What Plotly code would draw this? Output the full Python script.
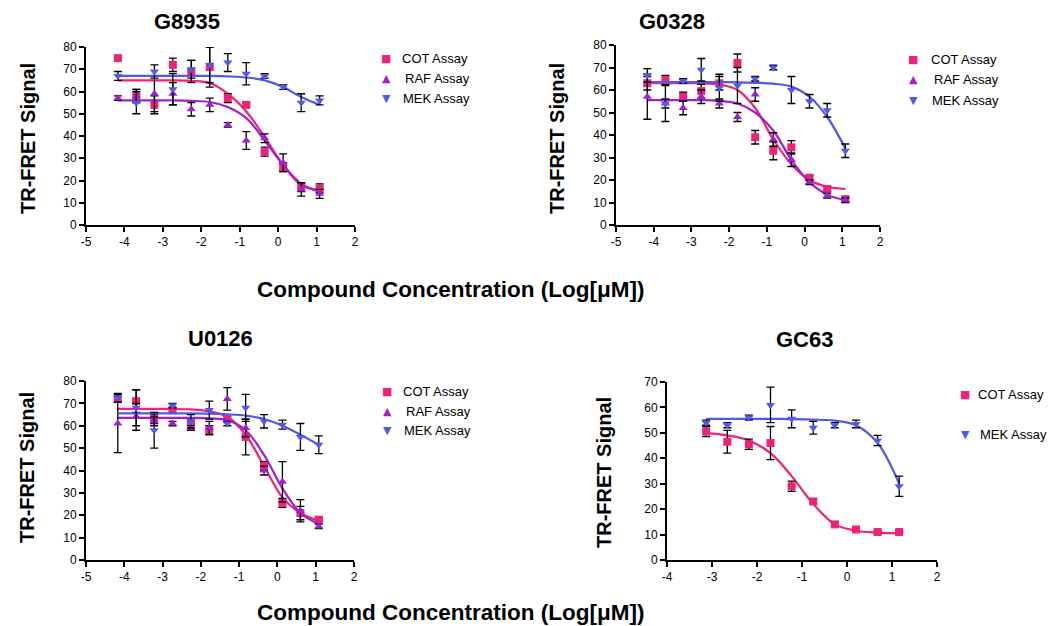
import plotly.graph_objects as go

W, H = 1055, 626
PAGE_OFFSET = 8  # default body margin of the html page

# ---------------- data ----------------
x12 = [-4.17, -3.69, -3.22, -2.74, -2.26, -1.78, -1.31, -0.83, -0.35, 0.13, 0.60, 1.08]
x10 = [-3.13, -2.66, -2.18, -1.70, -1.23, -0.75, -0.27, 0.20, 0.68, 1.16]

# G8935
g8935_cot = [75, 58, 54, 72, 69, 71, 57, 54, 33, 26, 17, 16.5]
g8935_cot_err = [0, 3, 4, 3, 5, 9, 2, 1, 2, 2, 2, 2]
g8935_raf = [57, 58, 59, 59, 52, 54, 45, 38, 39, 28, 16, 14]
g8935_raf_err = [1, 3, 8, 5, 3, 3, 1, 4, 2, 4, 3, 2]
g8935_mek = [67, 55, 69, 61, 70, 72, 73, 68, 67, 62, 55, 56]
g8935_mek_err = [2, 5, 3, 7, 4, 8, 4, 5, 1, 1, 4, 2]
g8935_cot_fit = [65, 65, 65, 65, 64.8, 63.8, 59, 51, 39.5, 27, 18, 15.5]
g8935_raf_fit = [56, 56, 56, 56, 55.8, 55.3, 53, 48, 38, 27, 18.5, 15]
g8935_mek_fit = [67, 67, 67, 67, 67, 67, 66.8, 66.3, 65, 62, 57.5, 54]

# G0328
g0328_cot = [63, 64.5, 57, 59.5, 63, 72, 39, 33, 34.5, 21, 16, 11.5]
g0328_cot_err = [3, 2, 2, 3, 3, 4, 3, 4, 3, 1, 1, 1]
g0328_raf = [57, 54, 52, 57, 54, 48, 58, 38, 29, 19, 13, 11]
g0328_raf_err = [10, 8, 3, 3, 2, 2, 3, 3, 3, 1, 1, 1]
g0328_mek = [66.5, 54, 64, 69, 61, 62, 65, 70, 60, 55, 51, 33]
g0328_mek_err = [3, 2, 1, 5, 6, 8, 1, 1, 6, 3, 3, 3]
g0328_cot_fit = [63, 63, 63, 63, 62.5, 60, 52, 38, 27, 20, 17, 16]
g0328_raf_fit = [55.5, 55.5, 55.5, 55.5, 55.2, 54, 50, 42, 29, 19, 13.5, 11]
g0328_mek_fit = [63.5, 63.5, 63.5, 63.5, 63.5, 63.4, 63.2, 62.8, 61.5, 57, 48, 34]

# U0126
u0126_cot = [72, 71, 63, 67, 62, 58, 63, 55, 42, 25.5, 21, 18]
u0126_cot_err = [1, 5, 2, 1, 1, 2, 1, 8, 2, 2, 3, 1]
u0126_raf = [61, 64, 62, 61, 59, 59, 72, 59, 40, 35, 22, 15]
u0126_raf_err = [13, 6, 2, 1, 1, 3, 5, 4, 2, 9, 5, 1]
u0126_mek = [72.5, 68, 58, 69, 62, 67, 61, 68, 62, 60.5, 55, 51.5]
u0126_mek_err = [2, 8, 8, 1, 3, 4, 1, 6, 3, 2, 6, 4]
u0126_cot_fit = [67.5, 67.5, 67.5, 67.5, 67.3, 66.5, 64, 56, 42, 28, 21, 17.5]
u0126_raf_fit = [63.5, 63.5, 63.5, 63.5, 63.5, 63.3, 62.5, 58, 47, 32, 21, 16]
u0126_mek_fit = [65.5, 65.5, 65.5, 65.5, 65.5, 65.4, 65.1, 64.5, 63, 60, 56, 51.5]

# GC63
gc63_cot = [50.5, 46.5, 45.5, 46, 29, 23, 14, 12, 11, 11]
gc63_cot_err = [2, 4.5, 2, 6.5, 2, 1, 1, 0.5, 0.5, 0.5]
gc63_mek = [54, 53, 56, 61, 55.5, 52, 53, 53.5, 47, 29]
gc63_mek_err = [1, 1, 1, 7, 3.5, 2.5, 1, 1.5, 2, 4]
gc63_cot_fit = [50, 49, 47, 42, 33, 22, 14, 11.5, 10.8, 10.5]
gc63_mek_fit = [55.5, 55.5, 55.5, 55.5, 55.4, 55.2, 54.8, 53, 46, 30]

titles = ["G8935", "G0328", "U0126", "GC63"]
x_ticks = [-5, -4, -3, -2, -1, 0, 1, 2]
x_ticklabels = ["-5", "-4", "-3", "-2", "-1", "0", "1", "2"]
x_ticks4 = [-4, -3, -2, -1, 0, 1, 2]
x_ticklabels4 = ["-4", "-3", "-2", "-1", "0", "1", "2"]
y_title = "TR-FRET Signal"
x_title = "Compound Concentration (Log[μM])"
legend_labels_3 = ["COT Assay", "RAF Assay", "MEK Assay"]
legend_labels_2 = ["COT Assay", "MEK Assay"]

# ---------------- style ----------------
C_COT = "#EE2277"
C_RAF = "#A020D0"
C_MEK = "#5058EE"
FONT = "Liberation Sans, Arial, sans-serif"

def px_x(p):
    return (p - PAGE_OFFSET) / W

def px_y(p):
    return 1 - (p - PAGE_OFFSET) / H

fig = go.Figure()

def add_series(xs, ys, errs, fit, name, color, symbol, xa, ya):
    fig.add_trace(go.Scatter(
        x=xs, y=fit, mode="lines", line=dict(color=color, width=2.2, shape="spline", smoothing=1.0),
        xaxis=xa, yaxis=ya, showlegend=False, hoverinfo="skip"))
    fig.add_trace(go.Scatter(
        x=xs, y=ys, mode="markers", name=name, showlegend=False,
        marker=dict(color=color, symbol=symbol, size=8),
        error_y=dict(type="data", array=errs, visible=True, color="black", thickness=1.3, width=4),
        xaxis=xa, yaxis=ya))

# panel 1
add_series(x12, g8935_cot, g8935_cot_err, g8935_cot_fit, "COT Assay", C_COT, "square", "x", "y")
add_series(x12, g8935_raf, g8935_raf_err, g8935_raf_fit, "RAF Assay", C_RAF, "triangle-up", "x", "y")
add_series(x12, g8935_mek, g8935_mek_err, g8935_mek_fit, "MEK Assay", C_MEK, "triangle-down", "x", "y")
# panel 2
add_series(x12, g0328_cot, g0328_cot_err, g0328_cot_fit, "COT Assay", C_COT, "square", "x2", "y2")
add_series(x12, g0328_raf, g0328_raf_err, g0328_raf_fit, "RAF Assay", C_RAF, "triangle-up", "x2", "y2")
add_series(x12, g0328_mek, g0328_mek_err, g0328_mek_fit, "MEK Assay", C_MEK, "triangle-down", "x2", "y2")
# panel 3
add_series(x12, u0126_cot, u0126_cot_err, u0126_cot_fit, "COT Assay", C_COT, "square", "x3", "y3")
add_series(x12, u0126_raf, u0126_raf_err, u0126_raf_fit, "RAF Assay", C_RAF, "triangle-up", "x3", "y3")
add_series(x12, u0126_mek, u0126_mek_err, u0126_mek_fit, "MEK Assay", C_MEK, "triangle-down", "x3", "y3")
# panel 4
add_series(x10, gc63_cot, gc63_cot_err, gc63_cot_fit, "COT Assay", C_COT, "square", "x4", "y4")
add_series(x10, gc63_mek, gc63_mek_err, gc63_mek_fit, "MEK Assay", C_MEK, "triangle-down", "x4", "y4")

# panel geometry (pixels): left, right, top, bottom
boxes = [(86, 355, 47, 225), (616, 880, 45, 225), (86, 354, 381, 560), (667, 937, 382, 560)]
ranges_x = [[-5, 2], [-5, 2], [-5, 2], [-4, 2]]
ranges_y = [[0, 80], [0, 80], [0, 80], [0, 70]]
ticks_x = [x_ticks, x_ticks, x_ticks, x_ticks4]
ticktext_x = [x_ticklabels, x_ticklabels, x_ticklabels, x_ticklabels4]

axis_common = dict(showgrid=False, zeroline=False, showline=True, linecolor="black", linewidth=2,
                   ticks="outside", ticklen=5, tickwidth=1.5, tickcolor="black", automargin=False,
                   tickfont=dict(family=FONT, size=12, color="black"))
for i, (l, r, t, b) in enumerate(boxes):
    sfx = "" if i == 0 else str(i + 1)
    fig.layout["xaxis" + sfx] = dict(axis_common, domain=[px_x(l), px_x(r)], range=ranges_x[i],
                                     tickmode="array", tickvals=ticks_x[i], ticktext=ticktext_x[i],
                                     anchor="y" + sfx, fixedrange=True)
    fig.layout["yaxis" + sfx] = dict(axis_common, domain=[px_y(b), px_y(t)], range=ranges_y[i],
                                     dtick=10, anchor="x" + sfx, fixedrange=True)

ann = []
title_pos = [(187, 22), (672, 22), (220, 338), (804, 339)]
for (tx, ty), txt in zip(title_pos, titles):
    ann.append(dict(x=px_x(tx), y=px_y(ty), xref="paper", yref="paper", text="<b>%s</b>" % txt,
                    showarrow=False, xanchor="center", yanchor="middle",
                    font=dict(family=FONT, size=22, color="black")))
ytitle_pos = [(28, 139), (557, 139), (27, 468), (604, 473)]
for tx, ty in ytitle_pos:
    ann.append(dict(x=px_x(tx), y=px_y(ty), xref="paper", yref="paper", text="<b>%s</b>" % y_title,
                    textangle=-90, showarrow=False, xanchor="center", yanchor="middle",
                    font=dict(family=FONT, size=20, color="black")))
for ty in (289, 612):
    ann.append(dict(x=px_x(450), y=px_y(ty), xref="paper", yref="paper", text="<b>%s</b>" % x_title,
                    showarrow=False, xanchor="center", yanchor="middle",
                    font=dict(family=FONT, size=22.5, color="black")))

# legends (keys drawn as text glyphs)
def add_legend(labels, glyphs, colors, key_x, text_x, rows_y):
    for lab, gl, col, tx, ry in zip(labels, glyphs, colors, text_x, rows_y):
        ann.append(dict(x=px_x(key_x), y=px_y(ry), xref="paper", yref="paper", text=gl,
                        showarrow=False, xanchor="center", yanchor="middle",
                        font=dict(family="DejaVu Sans", size=11, color=col)))
        ann.append(dict(x=px_x(tx), y=px_y(ry), xref="paper", yref="paper", text=lab,
                        showarrow=False, xanchor="left", yanchor="middle",
                        font=dict(family=FONT, size=13, color="black")))

g3 = ["■", "▲", "▼"]
c3 = [C_COT, C_RAF, C_MEK]
add_legend(legend_labels_3, g3, c3, 386, [400, 403, 401], [58, 79, 99])
add_legend(legend_labels_3, g3, c3, 913, [929, 932, 930], [60, 80, 100])
add_legend(legend_labels_3, g3, c3, 387, [401, 404, 402], [391, 411, 431])
add_legend(legend_labels_2, ["■", "▼"], [C_COT, C_MEK], 965, [976, 978], [394, 434])

fig.update_layout(
    template="none",
    width=W, height=H, margin=dict(l=0, r=0, t=0, b=0, autoexpand=False),
    paper_bgcolor="white", plot_bgcolor="white",
    annotations=ann, showlegend=False,
)

fig.write_html("out.html")
